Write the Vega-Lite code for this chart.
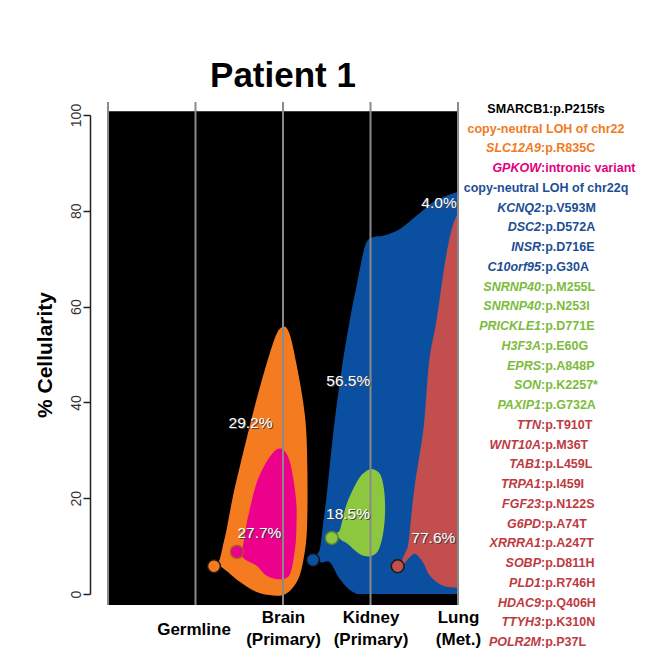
{
  "$schema": "https://vega.github.io/schema/vega-lite/v6.json",
  "background": "white",
  "padding": {"left": 34, "top": 59, "right": 5, "bottom": 0},
  "bounds": "flush",
  "spacing": 8,
  "config": {"font": "Liberation Sans", "view": {"stroke": null}},
  "resolve": {"scale": {"x": "independent", "y": "independent", "color": "independent"}},
  "datasets": {
    "orange": [
      {"o": 1, "x": 1.25, "y": 6.2}, {"o": 2, "x": 1.28, "y": 7.4}, {"o": 3, "x": 1.314, "y": 10.1},
      {"o": 4, "x": 1.357, "y": 13.6}, {"o": 5, "x": 1.429, "y": 20.5}, {"o": 6, "x": 1.509, "y": 26.8},
      {"o": 7, "x": 1.699, "y": 40.7}, {"o": 8, "x": 1.889, "y": 52.5}, {"o": 9, "x": 1.985, "y": 55.7},
      {"o": 10, "x": 2.069, "y": 54.6}, {"o": 11, "x": 2.157, "y": 47.7}, {"o": 12, "x": 2.251, "y": 37.2},
      {"o": 13, "x": 2.278, "y": 26.8}, {"o": 14, "x": 2.274, "y": 13.6}, {"o": 15, "x": 2.229, "y": 6.7},
      {"o": 16, "x": 2.157, "y": 2.5}, {"o": 17, "x": 2.03, "y": 0.0}, {"o": 18, "x": 1.886, "y": -0.3},
      {"o": 19, "x": 1.699, "y": 0.4}, {"o": 20, "x": 1.509, "y": 2.5}, {"o": 21, "x": 1.371, "y": 4.6},
      {"o": 22, "x": 1.30, "y": 5.6}
    ],
    "pink": [
      {"o": 1, "x": 1.54, "y": 9.8}, {"o": 2, "x": 1.57, "y": 13.0}, {"o": 3, "x": 1.605, "y": 16.5},
      {"o": 4, "x": 1.714, "y": 24.0}, {"o": 5, "x": 1.871, "y": 29.2}, {"o": 6, "x": 1.985, "y": 30.3},
      {"o": 7, "x": 2.08, "y": 27.5}, {"o": 8, "x": 2.149, "y": 19.8}, {"o": 9, "x": 2.153, "y": 13.6},
      {"o": 10, "x": 2.137, "y": 9.4}, {"o": 11, "x": 2.08, "y": 4.2}, {"o": 12, "x": 1.966, "y": 3.1},
      {"o": 13, "x": 1.814, "y": 3.8}, {"o": 14, "x": 1.699, "y": 5.9}, {"o": 15, "x": 1.585, "y": 7.0},
      {"o": 16, "x": 1.53, "y": 8.0}
    ],
    "blue": [
      {"o": 1, "x": 2.38, "y": 7.9}, {"o": 2, "x": 2.423, "y": 9.5}, {"o": 3, "x": 2.461, "y": 15.0},
      {"o": 4, "x": 2.499, "y": 20.5}, {"o": 5, "x": 2.53, "y": 26.0}, {"o": 6, "x": 2.59, "y": 36.0},
      {"o": 7, "x": 2.671, "y": 47.0}, {"o": 8, "x": 2.766, "y": 57.4}, {"o": 9, "x": 2.842, "y": 64.4},
      {"o": 10, "x": 2.918, "y": 71.3}, {"o": 11, "x": 2.971, "y": 73.9}, {"o": 12, "x": 3.051, "y": 74.6},
      {"o": 13, "x": 3.166, "y": 74.9}, {"o": 14, "x": 3.337, "y": 76.2}, {"o": 15, "x": 3.528, "y": 79.0},
      {"o": 16, "x": 3.714, "y": 81.8}, {"o": 17, "x": 3.863, "y": 83.1}, {"o": 18, "x": 4.0, "y": 83.9},
      {"o": 19, "x": 4.15, "y": 84.3}, {"o": 20, "x": 4.15, "y": -0.5}, {"o": 21, "x": 3.6, "y": -0.4},
      {"o": 22, "x": 3.0, "y": -0.4}, {"o": 23, "x": 2.8, "y": 0.4}, {"o": 24, "x": 2.651, "y": 3.1},
      {"o": 25, "x": 2.537, "y": 6.6}, {"o": 26, "x": 2.44, "y": 6.6}
    ],
    "green": [
      {"o": 1, "x": 2.61, "y": 12.6}, {"o": 2, "x": 2.651, "y": 13.4}, {"o": 3, "x": 2.709, "y": 17.7},
      {"o": 4, "x": 2.766, "y": 20.5}, {"o": 5, "x": 2.857, "y": 23.8}, {"o": 6, "x": 2.926, "y": 25.3},
      {"o": 7, "x": 3.006, "y": 26.1}, {"o": 8, "x": 3.086, "y": 25.5}, {"o": 9, "x": 3.131, "y": 24.0},
      {"o": 10, "x": 3.16, "y": 20.9}, {"o": 11, "x": 3.166, "y": 16.7}, {"o": 12, "x": 3.143, "y": 12.5},
      {"o": 13, "x": 3.086, "y": 9.0}, {"o": 14, "x": 2.994, "y": 7.9}, {"o": 15, "x": 2.903, "y": 8.1},
      {"o": 16, "x": 2.842, "y": 8.8}, {"o": 17, "x": 2.743, "y": 10.4}, {"o": 18, "x": 2.663, "y": 11.3}
    ],
    "red": [
      {"o": 1, "x": 3.36, "y": 7.0}, {"o": 2, "x": 3.40, "y": 8.7}, {"o": 3, "x": 3.432, "y": 10.4},
      {"o": 4, "x": 3.463, "y": 15.7}, {"o": 5, "x": 3.509, "y": 23.0}, {"o": 6, "x": 3.609, "y": 35.1},
      {"o": 7, "x": 3.67, "y": 48.5}, {"o": 8, "x": 3.757, "y": 57.4}, {"o": 9, "x": 3.871, "y": 71.3},
      {"o": 10, "x": 3.985, "y": 79.0}, {"o": 11, "x": 4.15, "y": 81.5}, {"o": 12, "x": 4.15, "y": 1.0},
      {"o": 13, "x": 4.02, "y": 1.25}, {"o": 14, "x": 3.829, "y": 1.7}, {"o": 15, "x": 3.68, "y": 3.8},
      {"o": 16, "x": 3.6, "y": 6.6}, {"o": 17, "x": 3.509, "y": 8.4}, {"o": 18, "x": 3.43, "y": 7.3},
      {"o": 19, "x": 3.37, "y": 6.0}
    ],
    "circles": [
      {"clone": "brain", "x": 1.211, "y": 5.8},
      {"clone": "brain2", "x": 1.474, "y": 8.8},
      {"clone": "kidney", "x": 2.343, "y": 7.1},
      {"clone": "kidney2", "x": 2.557, "y": 11.7},
      {"clone": "lung", "x": 3.311, "y": 5.8}
    ],
    "pct": [
      {"x": 1.629, "y": 35.7, "t": "29.2%"},
      {"x": 1.73, "y": 12.7, "t": "27.7%"},
      {"x": 2.746, "y": 44.4, "t": "56.5%"},
      {"x": 2.743, "y": 16.7, "t": "18.5%"},
      {"x": 3.718, "y": 11.7, "t": "77.6%"},
      {"x": 3.783, "y": 81.6, "t": "4.0%"}
    ],
    "times": [{"x": 0}, {"x": 1}, {"x": 2}, {"x": 3}, {"x": 4}],
    "legend": [
      {"label": "SMARCB1:p.P215fs", "full": "SMARCB1:p.P215fs", "gene": "", "rest": "", "clone": "germline"},
      {"label": "copy-neutral LOH of chr22", "full": "copy-neutral LOH of chr22", "gene": "", "rest": "", "clone": "brain"},
      {"label": "SLC12A9:p.R835C", "full": "", "gene": "SLC12A9", "rest": ":p.R835C", "clone": "brain"},
      {"label": "GPKOW:intronic variant", "full": "", "gene": "GPKOW", "rest": ":intronic variant", "clone": "brain2"},
      {"label": "copy-neutral LOH of chr22q", "full": "copy-neutral LOH of chr22q", "gene": "", "rest": "", "clone": "kidney"},
      {"label": "KCNQ2:p.V593M", "full": "", "gene": "KCNQ2", "rest": ":p.V593M", "clone": "kidney"},
      {"label": "DSC2:p.D572A", "full": "", "gene": "DSC2", "rest": ":p.D572A", "clone": "kidney"},
      {"label": "INSR:p.D716E", "full": "", "gene": "INSR", "rest": ":p.D716E", "clone": "kidney"},
      {"label": "C10orf95:p.G30A", "full": "", "gene": "C10orf95", "rest": ":p.G30A", "clone": "kidney"},
      {"label": "SNRNP40:p.M255L", "full": "", "gene": "SNRNP40", "rest": ":p.M255L", "clone": "kidney2"},
      {"label": "SNRNP40:p.N253I", "full": "", "gene": "SNRNP40", "rest": ":p.N253I", "clone": "kidney2"},
      {"label": "PRICKLE1:p.D771E", "full": "", "gene": "PRICKLE1", "rest": ":p.D771E", "clone": "kidney2"},
      {"label": "H3F3A:p.E60G", "full": "", "gene": "H3F3A", "rest": ":p.E60G", "clone": "kidney2"},
      {"label": "EPRS:p.A848P", "full": "", "gene": "EPRS", "rest": ":p.A848P", "clone": "kidney2"},
      {"label": "SON:p.K2257*", "full": "", "gene": "SON", "rest": ":p.K2257*", "clone": "kidney2"},
      {"label": "PAXIP1:p.G732A", "full": "", "gene": "PAXIP1", "rest": ":p.G732A", "clone": "kidney2"},
      {"label": "TTN:p.T910T", "full": "", "gene": "TTN", "rest": ":p.T910T", "clone": "lung"},
      {"label": "WNT10A:p.M36T", "full": "", "gene": "WNT10A", "rest": ":p.M36T", "clone": "lung"},
      {"label": "TAB1:p.L459L", "full": "", "gene": "TAB1", "rest": ":p.L459L", "clone": "lung"},
      {"label": "TRPA1:p.I459I", "full": "", "gene": "TRPA1", "rest": ":p.I459I", "clone": "lung"},
      {"label": "FGF23:p.N122S", "full": "", "gene": "FGF23", "rest": ":p.N122S", "clone": "lung"},
      {"label": "G6PD:p.A74T", "full": "", "gene": "G6PD", "rest": ":p.A74T", "clone": "lung"},
      {"label": "XRRRA1:p.A247T", "full": "", "gene": "XRRRA1", "rest": ":p.A247T", "clone": "lung"},
      {"label": "SOBP:p.D811H", "full": "", "gene": "SOBP", "rest": ":p.D811H", "clone": "lung"},
      {"label": "PLD1:p.R746H", "full": "", "gene": "PLD1", "rest": ":p.R746H", "clone": "lung"},
      {"label": "HDAC9:p.Q406H", "full": "", "gene": "HDAC9", "rest": ":p.Q406H", "clone": "lung"},
      {"label": "TTYH3:p.K310N", "full": "", "gene": "TTYH3", "rest": ":p.K310N", "clone": "lung"},
      {"label": "POLR2M:p.P37L", "full": "", "gene": "POLR2M", "rest": ":p.P37L", "clone": "lung"}
    ]
  },
  "hconcat": [
    {
      "width": 350,
      "height": 479,
      "title": {"text": "Patient 1", "fontSize": 35, "fontWeight": "bold", "color": "#000000", "anchor": "middle", "offset": 7},
      "layer": [
        {
          "data": {"values": [{}]},
          "mark": {"type": "rect", "color": "#000000"},
          "encoding": {
            "x": {
              "datum": 0, "type": "quantitative",
              "scale": {"domain": [0, 4], "nice": false, "zero": false},
              "axis": {
                "values": [1, 2, 3, 4], "title": null, "domain": false, "ticks": false, "tickSize": 0, "grid": false,
                "labelFontSize": 17, "labelFontWeight": "bold", "labelBaseline": "middle",
                "labelPadding": {"condition": {"test": "datum.value == 1", "value": 35}, "value": 23},
                "labelOffset": {"condition": {"test": "datum.value == 1", "value": -2}, "value": 0},
                "labelLineHeight": 22, "labelFlush": false, "labelOverlap": false, "labelBound": false,
                "labelExpr": "datum.value == 1 ? 'Germline' : datum.value == 2 ? ['Brain', '(Primary)'] : datum.value == 3 ? ['Kidney', '(Primary)'] : ['Lung', '(Met.)']",
                "encode": {"labels": {"update": {
                  "fill": {"signal": "datum.value == 1 ? '#000000' : datum.value == 2 ? '#F47B20' : datum.value == 3 ? '#1A4E9C' : '#C0504D'"}
                }}}
              }
            },
            "x2": {"datum": 4},
            "y": {
              "datum": -2.3, "type": "quantitative",
              "scale": {"domain": [0, 100], "nice": false, "zero": false},
              "axis": {
                "values": [0, 20, 40, 60, 80, 100], "offset": 18, "tickSize": 7, "tickWidth": 1.5, "tickColor": "#222222",
                "domainColor": "#222222", "domainWidth": 1.5, "grid": false,
                "labelAngle": 270, "labelAlign": "center", "labelBaseline": "bottom", "labelFontSize": 14,
                "labelColor": "#333333", "labelPadding": 0,
                "title": "% Cellularity", "titleFontSize": 21, "titleFontWeight": "bold", "titleColor": "#000000", "titlePadding": 14
              }
            },
            "y2": {"datum": 100.8}
          }
        },
        {
          "data": {"name": "orange"},
          "mark": {"type": "line", "filled": true, "interpolate": "cardinal-closed", "color": "#F47B20", "strokeWidth": 0},
          "encoding": {"x": {"field": "x", "type": "quantitative"}, "y": {"field": "y", "type": "quantitative"}, "order": {"field": "o", "type": "quantitative"}}
        },
        {
          "data": {"name": "pink"},
          "mark": {"type": "line", "filled": true, "interpolate": "cardinal-closed", "color": "#EC008C", "strokeWidth": 0},
          "encoding": {"x": {"field": "x", "type": "quantitative"}, "y": {"field": "y", "type": "quantitative"}, "order": {"field": "o", "type": "quantitative"}}
        },
        {
          "data": {"name": "blue"},
          "mark": {"type": "line", "filled": true, "interpolate": "cardinal-closed", "color": "#0B4FA1", "strokeWidth": 0, "clip": true},
          "encoding": {"x": {"field": "x", "type": "quantitative"}, "y": {"field": "y", "type": "quantitative"}, "order": {"field": "o", "type": "quantitative"}}
        },
        {
          "data": {"name": "green"},
          "mark": {"type": "line", "filled": true, "interpolate": "cardinal-closed", "color": "#8DC63F", "strokeWidth": 0},
          "encoding": {"x": {"field": "x", "type": "quantitative"}, "y": {"field": "y", "type": "quantitative"}, "order": {"field": "o", "type": "quantitative"}}
        },
        {
          "data": {"name": "red"},
          "mark": {"type": "line", "filled": true, "interpolate": "cardinal-closed", "color": "#C24E4E", "strokeWidth": 0, "clip": true},
          "encoding": {"x": {"field": "x", "type": "quantitative"}, "y": {"field": "y", "type": "quantitative"}, "order": {"field": "o", "type": "quantitative"}}
        },
        {
          "data": {"name": "times"},
          "mark": {"type": "rule", "color": "#8a8a8a", "strokeWidth": 2},
          "encoding": {"x": {"field": "x", "type": "quantitative"}, "y": {"datum": -2.3}, "y2": {"datum": 102.7}}
        },
        {
          "data": {"name": "circles"},
          "mark": {"type": "point", "shape": "circle", "filled": true, "size": 165, "strokeWidth": 1.5, "opacity": 1},
          "encoding": {
            "x": {"field": "x", "type": "quantitative"},
            "y": {"field": "y", "type": "quantitative"},
            "fill": {"field": "clone", "type": "nominal", "scale": {"domain": ["brain", "brain2", "kidney", "kidney2", "lung"], "range": ["#F47B20", "#EC008C", "#0B4FA1", "#8DC63F", "#C24E4E"]}, "legend": null},
            "stroke": {"field": "clone", "type": "nominal", "scale": {"domain": ["brain", "brain2", "kidney", "kidney2", "lung"], "range": ["#1a1a1a", "#A8552A", "#111111", "#5c7f2a", "#1a1a1a"]}, "legend": null}
          }
        },
        {
          "data": {"name": "pct"},
          "mark": {"type": "text", "fontSize": 15.5, "color": "#444444", "dx": 1, "dy": 1},
          "encoding": {"x": {"field": "x", "type": "quantitative"}, "y": {"field": "y", "type": "quantitative"}, "text": {"field": "t"}}
        },
        {
          "data": {"name": "pct"},
          "mark": {"type": "text", "fontSize": 15.5, "color": "#ffffff"},
          "encoding": {"x": {"field": "x", "type": "quantitative"}, "y": {"field": "y", "type": "quantitative"}, "text": {"field": "t"}}
        }
      ]
    },
    {
      "width": 150,
      "height": 479,
      "data": {"name": "legend"},
      "encoding": {
        "y": {"field": "label", "type": "ordinal", "sort": null, "scale": {"type": "point", "range": [-6, 527], "padding": 0}, "axis": null},
        "color": {
          "field": "clone", "type": "nominal",
          "scale": {"domain": ["germline", "brain", "brain2", "kidney", "kidney2", "lung"], "range": ["#000000", "#F27A22", "#E2007F", "#1C4E94", "#7DBB3C", "#BE3A3F"]},
          "legend": null
        }
      },
      "layer": [
        {"mark": {"type": "text", "fontSize": 12.5, "fontWeight": "bold", "align": "center", "baseline": "middle", "dx": 5}, "encoding": {"text": {"field": "full"}}},
        {"mark": {"type": "text", "fontSize": 12.5, "fontWeight": "bold", "fontStyle": "italic", "align": "right", "baseline": "middle"}, "encoding": {"text": {"field": "gene"}}},
        {"mark": {"type": "text", "fontSize": 12.5, "fontWeight": "bold", "align": "left", "baseline": "middle"}, "encoding": {"text": {"field": "rest"}}}
      ]
    }
  ]
}
